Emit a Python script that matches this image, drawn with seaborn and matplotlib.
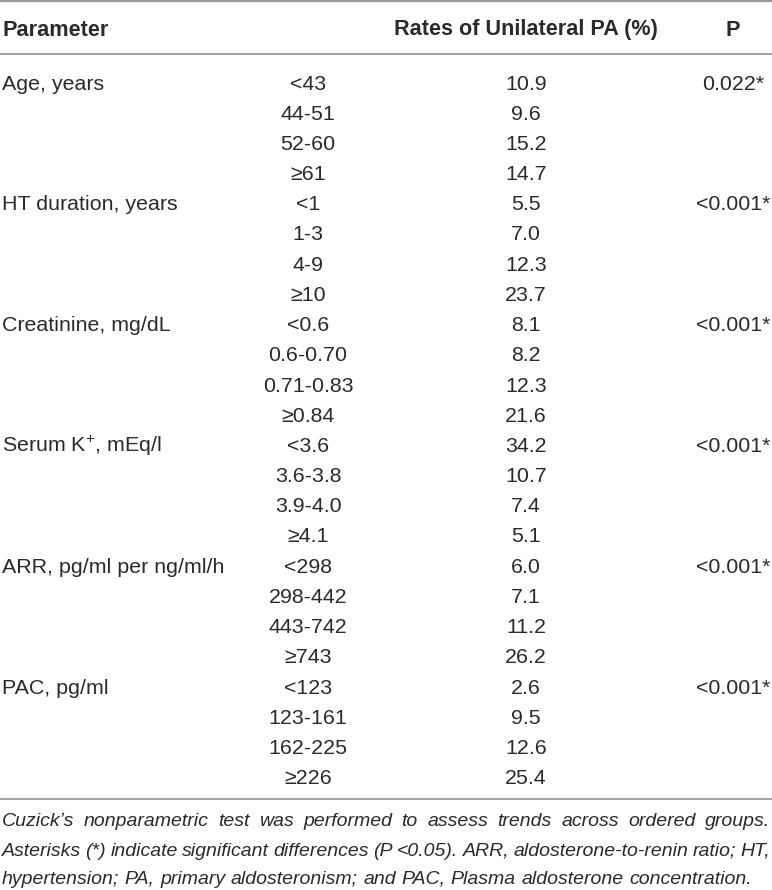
import numpy as np
import pandas as pd
import matplotlib
matplotlib.use("Agg")
import matplotlib.pyplot as plt
import seaborn as sns

# table content
parameters = ["Age, years", "HT duration, years", "Creatinine, mg/dL",
              "Serum K$^{+}$, mEq/l", "ARR, pg/ml per ng/ml/h", "PAC, pg/ml"]
groups = [
    ["<43", "44-51", "52-60", "\u226561"],
    ["<1", "1-3", "4-9", "\u226510"],
    ["<0.6", "0.6-0.70", "0.71-0.83", "\u22650.84"],
    ["<3.6", "3.6-3.8", "3.9-4.0", "\u22654.1"],
    ["<298", "298-442", "443-742", "\u2265743"],
    ["<123", "123-161", "162-225", "\u2265226"],
]
rates = [
    [10.9, 9.6, 15.2, 14.7],
    [5.5, 7.0, 12.3, 23.7],
    [8.1, 8.2, 12.3, 21.6],
    [34.2, 10.7, 7.4, 5.1],
    [6.0, 7.1, 11.2, 26.2],
    [2.6, 9.5, 12.6, 25.4],
]
p_values = ["0.022*", "<0.001*", "<0.001*", "<0.001*", "<0.001*", "<0.001*"]
headers = ["Parameter", "Rates of Unilateral PA (%)", "P"]
footnote = [
    "Cuzick\u2019s nonparametric test was performed to assess trends across ordered groups.",
    "Asterisks (*) indicate significant differences (P <0.05). ARR, aldosterone-to-renin ratio; HT,",
    "hypertension; PA, primary aldosteronism; and PAC, Plasma aldosterone concentration.",
]

sns.set_theme(style="white")
plt.rcParams["font.family"] = ["Liberation Sans", "DejaVu Sans"]
plt.rcParams["mathtext.fontset"] = "custom"
plt.rcParams["mathtext.rm"] = "Liberation Sans"
plt.rcParams["mathtext.it"] = "Liberation Sans:italic"

rows = []
for param, grp, rt, p in zip(parameters, groups, rates, p_values):
    for i, (g, r) in enumerate(zip(grp, rt)):
        rows.append({"parameter": param if i == 0 else "",
                     "group": g, "rate": f"{r:.1f}", "p": p if i == 0 else ""})
df = pd.DataFrame(rows)

W, H = 772, 890
fig = plt.figure(figsize=(W / 100, H / 100), dpi=100)
ax = fig.add_axes([0, 0, 1, 1])
ax.set_xlim(0, W)
ax.set_ylim(H, 0)
ax.axis("off")

txt = "#2a2a2a"
rule = "#9a9a9a"
fs = 15.4
fs_head = 15.6

x_param, x_group, x_rate, x_p = 2, 308, 526, 733
y_head, y_first, row_h = 30, 84, 30.2

# rules
ax.axhline(1, color=rule, lw=1.6)
ax.axhline(54, color=rule, lw=1.3)
ax.axhline(799, color=rule, lw=1.3)

ax.text(x_param, y_head, headers[0], ha="left", va="center", fontsize=fs_head,
        fontweight="bold", color=txt)
ax.text(x_rate, y_head, headers[1], ha="center", va="center", fontsize=fs_head,
        fontweight="bold", color=txt)
ax.text(x_p, y_head, headers[2], ha="center", va="center", fontsize=fs_head,
        fontweight="bold", color=txt)

for i, r in df.iterrows():
    y = y_first + i * row_h
    ax.text(x_param, y, r["parameter"], ha="left", va="center", fontsize=fs, color=txt)
    ax.text(x_group, y, r["group"], ha="center", va="center", fontsize=fs, color=txt)
    ax.text(x_rate, y, r["rate"], ha="center", va="center", fontsize=fs, color=txt)
    ax.text(x_p, y, r["p"], ha="center", va="center", fontsize=fs, color=txt)

# footnote, justified like the journal layout
fig.canvas.draw()
renderer = fig.canvas.get_renderer()
inv = ax.transData.inverted()
left, right = 2, 770
foot_y = [822, 851, 879]
for k, (line, y) in enumerate(zip(footnote, foot_y)):
    words = line.split(" ")
    arts = [ax.text(0, y, w, ha="left", va="center", fontsize=14,
                    style="italic", color=txt) for w in words]
    widths = []
    for a in arts:
        bb = a.get_window_extent(renderer=renderer)
        x0 = inv.transform((bb.x0, 0))[0]
        x1 = inv.transform((bb.x1, 0))[0]
        widths.append(x1 - x0)
    if k < len(footnote) - 1:
        gap = (right - left - sum(widths)) / (len(words) - 1)
    else:
        gap = 5.5
    x = left
    for a, w in zip(arts, widths):
        a.set_x(x)
        x += w + gap

fig.savefig("out.png", dpi=100)
